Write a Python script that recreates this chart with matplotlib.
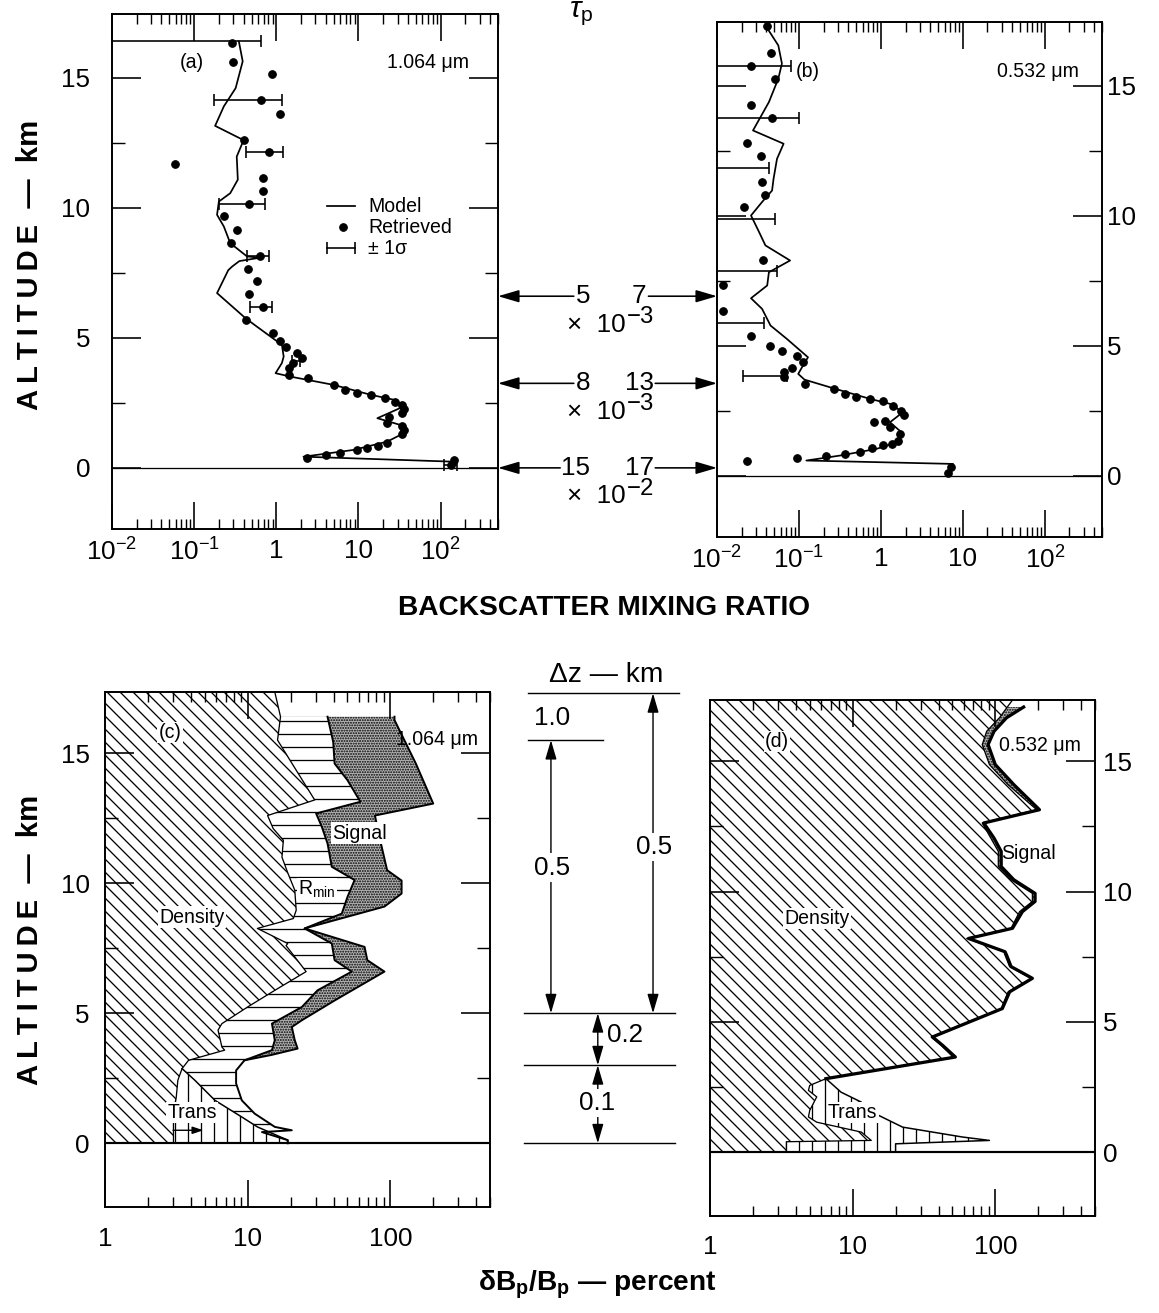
import numpy as np
import matplotlib
matplotlib.use("Agg")
import matplotlib.pyplot as plt
from matplotlib.ticker import FixedLocator, FixedFormatter, LogLocator, NullFormatter

W, H, DPI = 1159, 1313, 78

plt.rcParams.update({
    "font.family": ["Liberation Sans", "DejaVu Sans"],
    "mathtext.fontset": "custom",
    "mathtext.rm": "Liberation Sans",
    "mathtext.it": "Liberation Sans:italic",
    "mathtext.bf": "Liberation Sans:bold",
    "hatch.linewidth": 1.2,
    "axes.linewidth": 1.8,
})

# ---------------- data ----------------
# (a) 1.064 um : backscatter mixing ratio
a_model_alt = [16.4, 15.63, 14.6, 13.9, 13.15, 12.6, 11.97, 11.08, 10.56, 10.24, 9.73, 9.28,
               8.64, 8.13, 8.08, 7.95, 7.74, 7.6, 6.72, 5.76, 5.44, 4.73, 4.28, 4.03, 3.64,
               3.51, 3.19, 2.81, 2.62, 2.36, 1.91, 1.65, 1.33, 1.01, 0.69, 0.43, 0.24, 0.05]
a_model_val = [0.35, 0.39, 0.32, 0.23, 0.18, 0.40, 0.33, 0.34, 0.275, 0.20, 0.19, 0.23,
               0.275, 0.44, 0.63, 0.355, 0.29, 0.26, 0.19, 0.42, 0.575, 1.17, 1.23, 1.17, 0.98,
               1.48, 5.0, 14.1, 26.9, 35.5, 17.0, 32.4, 35.5, 22.4, 8.7, 2.14, 138, 138]
a_ret_alt = [16.33, 15.6, 15.15, 14.15, 13.6, 12.6, 12.13, 11.68, 11.14, 10.63, 10.15, 9.69,
             9.15, 8.64, 8.15, 7.64, 7.19, 6.68, 6.17, 5.67, 5.18, 4.86, 4.64, 4.41, 4.22,
             4.03, 3.83, 3.58, 3.45, 3.19, 3.0, 2.87, 2.8, 2.70, 2.55, 2.4, 2.25, 2.1, 1.97,
             1.72, 1.6, 1.45, 1.3, 0.97, 0.86, 0.78, 0.69, 0.56, 0.50, 0.37, 0.31, 0.12]
a_ret_val = [0.29, 0.295, 0.89, 0.66, 1.12, 0.40, 0.81, 0.059, 0.69, 0.69, 0.46, 0.23,
             0.33, 0.28, 0.63, 0.45, 0.575, 0.46, 0.68, 0.43, 0.91, 1.10, 1.32, 1.78, 2.04,
             1.58, 1.41, 1.41, 2.45, 5.0, 6.9, 9.5, 14.1, 20.9, 28.2, 33.9, 35.5, 33.9, 23.4,
             22.4, 33.9, 35.5, 33.9, 22.4, 17.4, 12.6, 9.5, 6.0, 4.0, 2.34, 145, 135]
a_err_alt = [16.4, 14.15, 12.13, 10.15, 8.15, 6.17, 4.1, 0.12]
a_err_lo = [0.001, 0.174, 0.43, 0.20, 0.44, 0.48, 1.55, 110]
a_err_hi = [0.65, 1.17, 1.2, 0.72, 0.81, 0.89, 1.95, 158]

# (b) 0.532 um : backscatter mixing ratio
b_model_alt = [17.32, 16.55, 15.85, 15.27, 14.37, 13.28, 12.77, 12.19, 11.42, 10.97, 10.53,
               10.01, 9.43, 8.86, 8.28, 7.83, 7.32, 6.83, 6.42, 5.78, 5.27, 4.56, 4.24, 3.92,
               3.7, 3.35, 2.96, 2.77, 2.45, 2.06, 1.68, 1.30, 1.04, 0.78, 0.59, 0.46, 0.1]
b_model_val = [0.039, 0.056, 0.062, 0.056, 0.043, 0.0275, 0.065, 0.054, 0.049, 0.047, 0.0355,
               0.026, 0.032, 0.039, 0.078, 0.043, 0.041, 0.026, 0.0355, 0.045, 0.071, 0.129,
               0.112, 0.098, 0.117, 0.275, 0.74, 1.29, 1.86, 1.29, 1.78, 1.62, 0.89, 0.316,
               0.123, 7.6, 6.9]
b_ret_alt = [17.29, 16.27, 15.74, 15.27, 14.27, 13.77, 12.81, 12.3, 11.3, 10.81, 10.33, 8.31,
             7.35, 6.32, 5.36, 4.99, 4.82, 4.59, 4.37, 4.15, 3.99, 3.79, 3.54, 3.35, 3.15,
             3.05, 2.96, 2.86, 2.7, 2.5, 2.35, 2.09, 2.1, 1.87, 1.61, 1.35, 1.23, 1.17, 1.06,
             0.93, 0.85, 0.78, 0.69, 0.59, 0.33, 0.12]
b_ret_val = [0.041, 0.045, 0.0257, 0.051, 0.0257, 0.047, 0.023, 0.034, 0.0355, 0.039, 0.0214,
             0.036, 0.0117, 0.0117, 0.0257, 0.044, 0.062, 0.095, 0.112, 0.083, 0.066, 0.066,
             0.117, 0.27, 0.36, 0.50, 0.74, 1.07, 1.41, 1.78, 1.9, 0.83, 1.12, 1.29, 1.70,
             1.62, 1.35, 1.05, 0.78, 0.55, 0.37, 0.214, 0.095, 0.023, 7.2, 6.6]
b_err_alt = [15.74, 13.77, 11.83, 9.88, 7.86, 5.87, 3.83]
b_err_lo = [0.001, 0.001, 0.001, 0.001, 0.001, 0.001, 0.021]
b_err_hi = [0.079, 0.10, 0.043, 0.051, 0.054, 0.037, 0.071]

bs_ticks = [1e-2, 1e-1, 1, 10, 100]
bs_labels = [r"$10^{-2}$", r"$10^{-1}$", "1", "10", r"$10^{2}$"]

# optical depth tau_p of layers (left: 1.064 um, right: 0.532 um)
tau_alt = [6.6, 3.25, 0.0]
tau_a = ["5", "8", "15"]
tau_b = ["7", "13", "17"]
tau_exp = ["−3", "−3", "−2"]

# (c) 1.064 um error budget boundaries (percent), cumulative
c_dens_alt = [17.35, 16.4, 15.5, 13.2, 12.6, 12.1, 11.65, 11.0, 10.4, 9.73, 8.96, 8.64, 8.26,
              7.68, 7.6, 6.6, 5.88, 5.24, 4.6, 4.35, 3.7, 3.58, 3.19, 2.87, 2.42, 1.78, 1.2, 0.0]
c_dens_val = [15.5, 17.0, 16.2, 29.5, 13.8, 15.1, 17.8, 17.4, 19.1, 21.4, 21.9, 20.9, 11.7,
              19.1, 18.6, 25.7, 15.5, 10.0, 6.6, 6.2, 6.6, 6.9, 3.85, 3.47, 3.24, 3.16, 3.02, 3.02]
c_trans_alt = [2.87, 2.42, 1.65, 1.01, 0.63, 0.12, 0.0]
c_trans_val = [3.47, 4.27, 5.9, 9.1, 11.7, 19.1, 19.1]
c_rmin_alt = [16.4, 15.43, 14.6, 13.96, 13.13, 12.68, 12.17, 11.53, 10.63, 10.12, 9.47, 8.83,
              8.26, 7.68, 7.04, 6.6, 5.88, 5.24, 4.6, 3.96, 3.58, 3.19, 2.8, 2.3, 1.65, 1.14,
              0.63, 0.5, 0.43, 0.12, 0.0]
c_rmin_val = [36.3, 39.8, 40.7, 50.1, 61.7, 30.2, 33.1, 36.3, 38.9, 56.2, 50.1, 45.7,
              25.1, 38.9, 40.7, 53.7, 30.9, 24.0, 14.8, 15.5, 14.8, 9.5, 8.3, 8.3, 9.1, 11.2,
              15.5, 20.4, 12.6, 19.1, 19.1]
c_sig_alt = [16.4, 16.27, 14.6, 13.06, 12.6, 11.4, 10.5, 10.1, 9.6, 9.1, 8.26, 7.55, 7.04,
             6.6, 5.5, 4.73, 4.47, 3.96, 3.64, 3.4, 3.19]
c_sig_val = [107, 107, 151, 200, 78, 87, 95, 120, 120, 91, 25.1, 66, 69, 91, 41, 24.0, 20.4,
             21.4, 22.4, 14.8, 9.5]

# (d) 0.532 um error budget boundaries (percent)
d_dens_alt = [17.35, 16.67, 16.15, 15.64, 14.87, 14.1, 13.14, 12.63, 12.05, 11.54, 10.96,
              10.45, 9.93, 9.62, 9.23, 8.59, 8.2, 7.69, 7.56, 7.12, 6.67, 6.15, 5.51, 4.42,
              4.1, 3.65, 2.82, 2.56, 2.37, 2.12, 1.6, 1.35, 1.15, 0.77, 0.45, 0.4, 0.0]
d_dens_val = [132, 107, 87, 81, 91, 123, 195, 81, 93, 105, 105, 129, 182, 182, 148, 129, 63,
              115, 117, 126, 178, 123, 110, 35.5, 41.7, 51.3, 6.5, 5.0, 4.9, 5.6, 5.0, 4.9,
              5.6, 11.5, 13.5, 3.43, 3.43]
d_trans_alt = [2.82, 2.3, 1.92, 1.75, 1.42, 0.96, 0.58, 0.45, 0.32, 0.0]
d_trans_val = [6.5, 8.3, 11.5, 6.8, 15.1, 22.4, 59, 91, 20, 20]
d_sig_alt = [17.08, 16.67, 16.15, 15.64, 14.87, 14.1, 13.14, 12.63, 12.05, 11.54, 10.96,
             10.45, 9.93, 9.62, 9.23, 8.59, 8.2, 7.69, 7.56, 7.12, 6.67, 6.15, 5.51, 4.42,
             4.1, 3.65, 2.82]
d_sig_val = [158, 120, 98, 89, 100, 135, 204, 83, 98, 110, 110, 135, 190, 190, 155, 132, 65,
             117, 120, 129, 182, 126, 112, 36.3, 42.7, 52.5, 6.5]

pct_ticks = [1, 10, 100]
pct_labels = ["1", "10", "100"]

# vertical resolution of the retrieval (km) between altitude boundaries
dz_bounds = [0.0, 3.0, 5.0, 15.5, 17.3]
dz_left_labels = ["0.1", "0.2", "0.5", "1.0"]
dz_right_label = "0.5"

alt_major = [0, 5, 10, 15]
alt_minor = [2.5, 7.5, 12.5]

# ---------------- figure ----------------
fig = plt.figure(figsize=(W / DPI, H / DPI), dpi=DPI)


def add_ax(left, top, right, bottom):
    return fig.add_axes([left / W, 1 - bottom / H, (right - left) / W, (bottom - top) / H])


def style(ax, xlim, ylim, ticks, labels, side, ypad, xpad):
    ax.set_xscale("log")
    ax.set_xlim(*xlim)
    ax.set_ylim(*ylim)
    ax.xaxis.set_major_locator(FixedLocator(ticks))
    ax.xaxis.set_major_formatter(FixedFormatter(labels))
    ax.xaxis.set_minor_locator(LogLocator(base=10, subs=np.arange(2, 10), numticks=30))
    ax.xaxis.set_minor_formatter(NullFormatter())
    ax.yaxis.set_major_locator(FixedLocator(alt_major))
    ax.yaxis.set_minor_locator(FixedLocator(alt_minor))
    ax.tick_params(which="both", direction="in", top=True, bottom=True, left=True, right=True)
    ax.tick_params(axis="x", which="major", length=25, width=1.5, labelsize=24, pad=xpad)
    ax.tick_params(axis="x", which="minor", length=9, width=1.3)
    ax.tick_params(axis="y", which="major", length=27, width=1.5, labelsize=24, pad=ypad)
    ax.tick_params(axis="y", which="minor", length=12, width=1.3)
    if side == "right":
        ax.tick_params(axis="y", labelleft=False, labelright=True)
    for s in ax.spines.values():
        s.set_zorder(6)


axA = add_ax(112, 14, 498, 529)
axB = add_ax(717, 22, 1102, 537)
axC = add_ax(105, 692, 490, 1207)
axD = add_ax(710, 700, 1095, 1216)

yl_top = (-2.35, 17.45)
yl_bot = (-2.45, 17.35)
style(axA, (0.01, 500), yl_top, bs_ticks, bs_labels, "left", 20, 9)
style(axB, (0.01, 500), yl_top, bs_ticks, bs_labels, "right", 5, 9)
style(axC, (1, 500), yl_bot, pct_ticks, pct_labels, "left", 14, 18)
style(axD, (1, 500), yl_bot, pct_ticks, pct_labels, "right", 7, 18)


def profile_panel(ax, m_alt, m_val, r_alt, r_val, e_alt, e_lo, e_hi):
    ax.axhline(0, color="black", lw=1.2, zorder=2)
    ax.plot(m_val, m_alt, color="black", lw=1.6, zorder=3)
    ax.plot(r_val, r_alt, "o", color="black", ms=7, zorder=4)
    lo = np.array(e_lo)
    hi = np.array(e_hi)
    cen = (lo + hi) / 2
    ax.errorbar(cen, e_alt, xerr=[cen - lo, hi - cen], fmt="none", ecolor="black",
                elinewidth=1.5, capsize=5.5, capthick=1.5, zorder=4)


profile_panel(axA, a_model_alt, a_model_val, a_ret_alt, a_ret_val, a_err_alt, a_err_lo, a_err_hi)
profile_panel(axB, b_model_alt, b_model_val, b_ret_alt, b_ret_val, b_err_alt, b_err_lo, b_err_hi)

SMALL = 18
# legend of (a)
tA = axA.transAxes
axA.plot([0.557, 0.630], [0.627, 0.627], color="black", lw=1.6, transform=tA)
axA.plot([0.598], [0.586], "o", color="black", ms=7, transform=tA)
axA.plot([0.557, 0.630], [0.545, 0.545], color="black", lw=1.5, marker="|", ms=11,
         mew=1.5, transform=tA)
for yy, s in zip([0.627, 0.586, 0.545], ["Model", "Retrieved", "± 1σ"]):
    axA.text(0.663, yy, s, transform=tA, fontsize=SMALL, va="center", ha="left")
axA.text(0.207, 0.905, "(a)", transform=tA, fontsize=SMALL, ha="center", va="center")
axA.text(0.819, 0.905, "1.064 μm", transform=tA, fontsize=SMALL, ha="center", va="center")
axB.text(0.236, 0.903, "(b)", transform=axB.transAxes, fontsize=SMALL, ha="center", va="center")
axB.text(0.834, 0.903, "0.532 μm", transform=axB.transAxes, fontsize=SMALL, ha="center", va="center")


def layer(ax, alt, val, hatch, fc="white", xmin=0.3, z=1):
    xs = [xmin] + list(val) + [xmin]
    ys = [alt[0]] + list(alt) + [alt[-1]]
    ax.fill(xs, ys, facecolor=fc, edgecolor="black", linewidth=0, hatch=hatch, zorder=z)


DIAG = "\\\\"
STIP = "....."
STIP_FC = "#b4b4b4"

# (c)
axC.axhline(0, color="black", lw=2.0, zorder=5)
layer(axC, c_sig_alt, c_sig_val, STIP, fc=STIP_FC)
layer(axC, c_rmin_alt, c_rmin_val, "-")
layer(axC, c_trans_alt, c_trans_val, "|")
layer(axC, c_dens_alt, c_dens_val, DIAG)
axC.plot(c_sig_val, c_sig_alt, color="black", lw=1.8, zorder=3)
axC.plot(c_rmin_val, c_rmin_alt, color="black", lw=1.8, zorder=3)
axC.plot(c_trans_val, c_trans_alt, color="black", lw=1.4, zorder=3)
axC.plot(c_dens_val, c_dens_alt, color="black", lw=1.2, zorder=3)
bb = dict(facecolor="white", edgecolor="none", pad=1.0)
tC = axC.transAxes
axC.text(0.169, 0.922, "(c)", transform=tC, fontsize=SMALL, ha="center", va="center", bbox=bb, zorder=7)
axC.text(0.862, 0.907, "1.064 μm", transform=tC, fontsize=SMALL, ha="center", va="center", zorder=7)
axC.text(0.662, 0.726, "Signal", transform=tC, fontsize=SMALL, ha="center", va="center", bbox=bb, zorder=7)
axC.text(0.551, 0.616, r"R$_{\rm min}$", transform=tC, fontsize=SMALL, ha="center", va="center", bbox=bb, zorder=7)
axC.text(0.226, 0.563, "Density", transform=tC, fontsize=SMALL, ha="center", va="center", bbox=bb, zorder=7)
axC.text(0.226, 0.184, "Trans", transform=tC, fontsize=SMALL, ha="center", va="center", bbox=bb, zorder=7)
axC.annotate("", xy=(4.9, 0.5), xytext=(3.0, 0.5),
             arrowprops=dict(arrowstyle="-|>,head_length=0.6,head_width=0.2", mutation_scale=14,
                             lw=1.3, color="black", shrinkA=0, shrinkB=0), zorder=7)

# (d)
axD.axhline(0, color="black", lw=2.0, zorder=5)
layer(axD, d_sig_alt, d_sig_val, STIP, fc=STIP_FC)
layer(axD, d_trans_alt, d_trans_val, "|")
layer(axD, d_dens_alt, d_dens_val, DIAG)
axD.plot(d_trans_val, d_trans_alt, color="black", lw=1.4, zorder=3)
axD.plot(d_dens_val, d_dens_alt, color="black", lw=1.2, zorder=3)
axD.plot(d_sig_val, d_sig_alt, color="black", lw=3.0, zorder=3)
tD = axD.transAxes
axD.text(0.174, 0.92, "(d)", transform=tD, fontsize=SMALL, ha="center", va="center", bbox=bb, zorder=7)
axD.text(0.857, 0.911, "0.532 μm", transform=tD, fontsize=SMALL, ha="center", va="center", zorder=7)
axD.text(0.826, 0.703, "Signal", transform=tD, fontsize=SMALL, ha="center", va="center", zorder=7)
axD.text(0.278, 0.576, "Density", transform=tD, fontsize=SMALL, ha="center", va="center", bbox=bb, zorder=7)
axD.text(0.371, 0.20, "Trans", transform=tD, fontsize=SMALL, ha="center", va="center", bbox=bb, zorder=7)

# ---- middle top: tau_p ----
axM1 = add_ax(498, 14, 717, 529)
axM1.set_xlim(0, 1)
axM1.set_ylim(*yl_top)
axM1.axis("off")
aprops = dict(arrowstyle="-|>,head_length=0.75,head_width=0.22", mutation_scale=22,
              lw=1.5, color="black", shrinkA=0, shrinkB=0)
for alt, la, lb, ex in zip(tau_alt, tau_a, tau_b, tau_exp):
    tl = 0.42 - 0.062 * len(la) - 0.012
    tr = 0.644 + 0.031 * len(lb) + 0.012
    axM1.annotate("", xy=(0.0, alt), xytext=(tl, alt), arrowprops=aprops, annotation_clip=False)
    axM1.annotate("", xy=(1.0, alt), xytext=(tr, alt), arrowprops=aprops, annotation_clip=False)
    axM1.text(0.42, alt, la, fontsize=24, ha="right", va="center")
    axM1.text(0.644, alt, lb, fontsize=24, ha="center", va="center")
    axM1.text(0.582, alt - 1.1, "×  10", fontsize=24, ha="right", va="center")
    axM1.text(0.588, alt - 0.8, ex, fontsize=22, ha="left", va="center")

# ---- middle bottom: delta z ----
axM2 = add_ax(490, 692, 710, 1207)
axM2.set_xlim(0, 1)
axM2.set_ylim(*yl_bot)
axM2.axis("off")
lw_l = 1.3
axM2.plot([0.173, 0.86], [dz_bounds[4]] * 2, color="black", lw=lw_l)
axM2.plot([0.173, 0.514], [dz_bounds[3]] * 2, color="black", lw=lw_l)
for z in dz_bounds[:3]:
    axM2.plot([0.155, 0.84], [z, z], color="black", lw=lw_l)
dprops = dict(arrowstyle="<|-|>,head_length=0.75,head_width=0.22", mutation_scale=20,
              lw=1.3, color="black", shrinkA=0, shrinkB=0)
axM2.annotate("", xy=(0.277, dz_bounds[2]), xytext=(0.277, dz_bounds[3]), arrowprops=dprops,
              annotation_clip=False)
axM2.annotate("", xy=(0.741, dz_bounds[2]), xytext=(0.741, dz_bounds[4]), arrowprops=dprops,
              annotation_clip=False)
axM2.annotate("", xy=(0.49, dz_bounds[1]), xytext=(0.49, dz_bounds[2]), arrowprops=dprops,
              annotation_clip=False)
axM2.annotate("", xy=(0.49, dz_bounds[0]), xytext=(0.49, dz_bounds[1]), arrowprops=dprops,
              annotation_clip=False)
bbw = dict(facecolor="white", edgecolor="none", pad=2.0)
axM2.text(0.282, 10.6, dz_left_labels[2], fontsize=24, ha="center", va="center", bbox=bbw, zorder=5)
axM2.text(0.745, 11.4, dz_right_label, fontsize=24, ha="center", va="center", bbox=bbw, zorder=5)
axM2.text(0.614, 4.15, dz_left_labels[1], fontsize=24, ha="center", va="center", zorder=5)
axM2.text(0.486, 1.54, dz_left_labels[0], fontsize=24, ha="center", va="center", bbox=bbw, zorder=5)
axM2.text(0.28, 16.35, dz_left_labels[3], fontsize=24, ha="center", va="center", zorder=5)
axM2.text(0.527, 18.0, "Δz — km", fontsize=26, ha="center", va="center", clip_on=False)

# ---- figure labels ----
def fx(px):
    return px / W


def fy(py):
    return 1 - py / H


ts = "\u2009"
alt_label = ts.join("ALTITUDE") + "  —  km"
fig.text(fx(581), fy(14), r"$\tau_{\rm p}$", fontsize=28, ha="center", va="center")
fig.text(fx(30), fy(265), alt_label, fontsize=27, fontweight="bold", rotation=90,
         ha="center", va="center")
fig.text(fx(30), fy(940), alt_label, fontsize=27, fontweight="bold", rotation=90,
         ha="center", va="center")
fig.text(fx(604), fy(608), "BACKSCATTER MIXING RATIO", fontsize=26, fontweight="bold",
         ha="center", va="center")
fig.text(fx(597), fy(1285), r"δB$_\mathbf{p}$/B$_\mathbf{p}$ — percent", fontsize=26,
         fontweight="bold", ha="center", va="center")

fig.savefig("out.png", dpi=DPI)
